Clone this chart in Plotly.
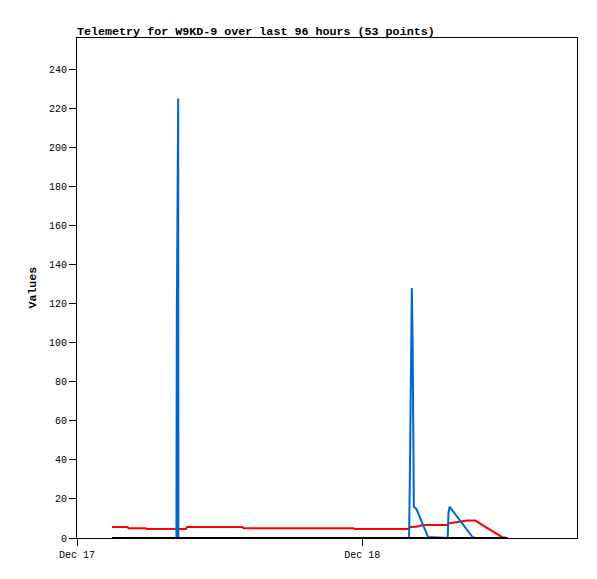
import plotly.graph_objects as go

# sample times (local)
times = [
    "2023-12-17 02:57", "2023-12-17 04:15", "2023-12-17 04:20", "2023-12-17 05:48",
    "2023-12-17 05:53", "2023-12-17 08:22", "2023-12-17 08:24", "2023-12-17 08:31",
    "2023-12-17 08:32", "2023-12-17 09:10", "2023-12-17 09:15", "2023-12-17 13:56",
    "2023-12-17 14:01", "2023-12-17 23:17", "2023-12-17 23:22", "2023-12-18 03:57",
    "2023-12-18 04:01", "2023-12-18 04:06", "2023-12-18 04:11", "2023-12-18 04:15",
    "2023-12-18 04:18", "2023-12-18 04:21", "2023-12-18 04:33", "2023-12-18 05:08",
    "2023-12-18 05:33", "2023-12-18 07:12", "2023-12-18 07:16", "2023-12-18 07:22",
    "2023-12-18 08:05", "2023-12-18 08:51", "2023-12-18 09:17", "2023-12-18 09:31",
    "2023-12-18 11:47", "2023-12-18 12:13",
]

ch_red = [
    5.6, 5.6, 5.0, 5.0, 4.6, 4.6, 4.6, 4.6, 4.6, 4.6, 5.6, 5.6,
    5.0, 5.0, 4.6, 4.6, 5.6, 5.6, 5.6, 5.6, 5.6, 5.6, 5.8, 6.6,
    6.6, 6.6, 7.5, 7.5, 8.2, 8.9, 8.9, 8.9, 0.4, 0.0,
]

ch_blue = [
    0, 0, 0, 0, 0, 0, 112, 225, 0, 0, 0, 0,
    0, 0, 0, 0, 32, 96, 128, 100, 44, 16, 15, 6.3,
    0.5, 0, 13, 16, 10, 4, 0.5, 0, 0, 0,
]

ch_black = [0] * len(times)

MONO = "Liberation Mono, DejaVu Sans Mono, monospace"

fig = go.Figure()
fig.add_trace(go.Scatter(x=times, y=ch_red, mode="lines",
                         line=dict(color="#ff0000", width=2)))
fig.add_trace(go.Scatter(x=times, y=ch_blue, mode="lines",
                         line=dict(color="#0066cc", width=2)))
fig.add_trace(go.Scatter(x=times, y=ch_black, mode="lines",
                         line=dict(color="#000000", width=2)))

fig.update_layout(
    width=597, height=579,
    margin=dict(l=77, r=20, t=38, b=41),
    paper_bgcolor="white", plot_bgcolor="white",
    showlegend=False,
    font=dict(family=MONO, size=10, color="black"),
    title=dict(
        text="<b>Telemetry for W9KD-9 over last 96 hours (53 points)</b>",
        font=dict(family=MONO, size=11.7, color="black"),
        x=77 / 597, xanchor="left", xref="container",
        y=1 - 31 / 579, yanchor="middle", yref="container",
    ),
    xaxis=dict(
        type="date",
        range=["2023-12-17 00:00", "2023-12-18 18:05"],
        tick0="2023-12-17", dtick=86400000, tickformat="%b %d",
        showgrid=False, zeroline=False,
        showline=True, mirror=True, linecolor="black", linewidth=1,
        ticks="outside", ticklen=7, tickcolor="black", tickwidth=1,
        tickfont=dict(family=MONO, size=10, color="black"),
    ),
    yaxis=dict(
        range=[0, 256],
        tickvals=[0, 20, 40, 60, 80, 100, 120, 140, 160, 180, 200, 220, 240],
        showgrid=False, zeroline=False,
        showline=True, mirror=True, linecolor="black", linewidth=1,
        ticks="outside", ticklen=7, tickcolor="black", tickwidth=1,
        tickfont=dict(family=MONO, size=10, color="black"),
    ),
    annotations=[dict(
        text="<b>Values</b>", textangle=-90, showarrow=False,
        xref="paper", yref="paper", x=(31.5 - 77) / 500, y=0.5,
        xanchor="center", yanchor="middle",
        font=dict(family=MONO, size=11.6, color="black"),
    )],
)

# 去掉页面默认 body 边距, 让图贴齐左上角
fig.write_html("out.html", config={"displayModeBar": False},
               post_script="document.body.style.margin='0';")
